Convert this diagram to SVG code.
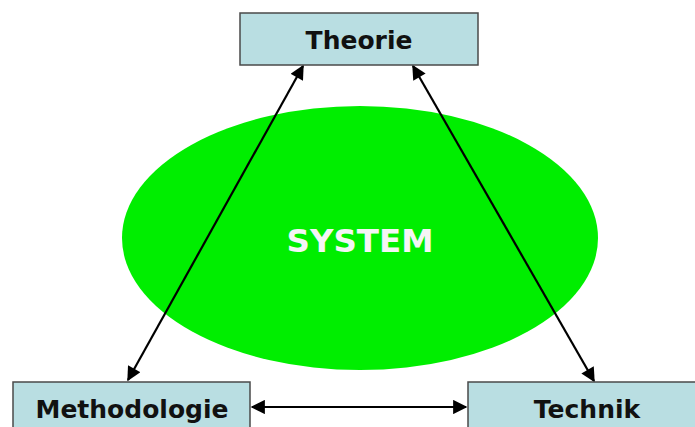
<svg xmlns="http://www.w3.org/2000/svg" width="695" height="427" viewBox="0 0 695 427">
<defs>
<style>
.box{fill:#b9dee2;stroke:#4a4a4a;stroke-width:1.5}
.lbl{font-family:"DejaVu Sans",Verdana,sans-serif;font-weight:bold;font-size:25px;fill:#111;text-anchor:middle}
.con{stroke:#000;stroke-width:2.2;fill:none;marker-start:url(#ah);marker-end:url(#ah)}
</style>
<marker id="ah" viewBox="0 0 10 10" refX="9" refY="5" markerWidth="7" markerHeight="6.5" orient="auto-start-reverse" markerUnits="strokeWidth">
<path d="M0,0 L10,5 L0,10 Z" fill="#000"/>
</marker>
</defs>
<rect width="695" height="427" fill="#fff"/>
<g id="system">
<ellipse cx="360" cy="238" rx="238" ry="132" fill="#00ee00"/>
<text x="360" y="252" style="font-family:'DejaVu Sans',Verdana,sans-serif;font-weight:bold;font-size:32.5px;fill:#f5f5f5;text-anchor:middle">SYSTEM</text>
</g>
<g id="connectors">
<line class="con" x1="303" y1="66" x2="128" y2="380"/>
<line class="con" x1="413" y1="66" x2="594" y2="381"/>
<line class="con" x1="252" y1="407" x2="466" y2="407"/>
</g>
<g id="theorie">
<rect class="box" x="240" y="13" width="238" height="52"/>
<text class="lbl" x="359" y="49">Theorie</text>
</g>
<g id="methodologie">
<rect class="box" x="13" y="382" width="237" height="60"/>
<text class="lbl" x="132" y="418">Methodologie</text>
</g>
<g id="technik">
<rect class="box" x="468" y="382" width="240" height="60"/>
<text class="lbl" x="587" y="418">Technik</text>
</g>
</svg>
